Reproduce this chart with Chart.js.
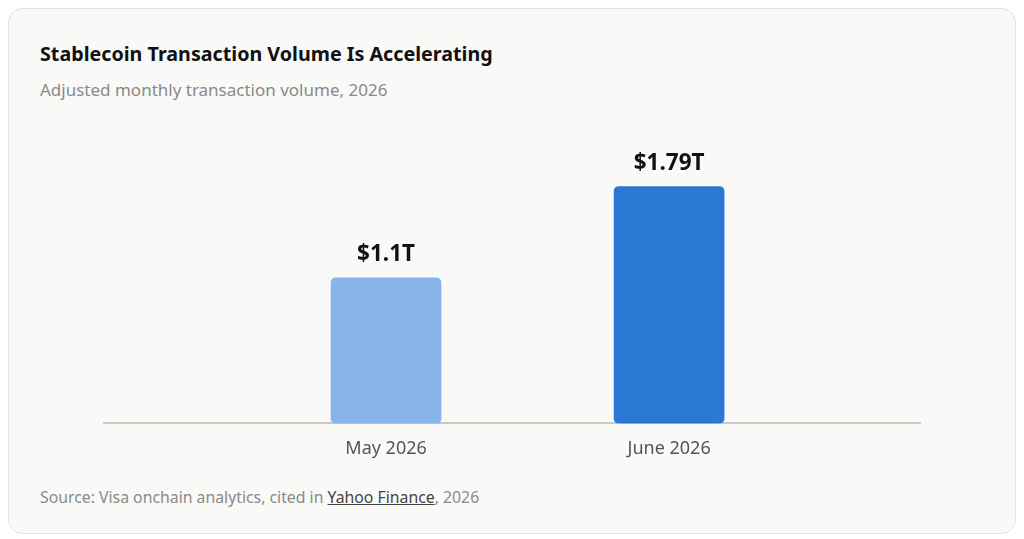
<!DOCTYPE html>
<html lang="en">
<head>
  <meta charset="UTF-8" />
  <title>Stablecoin Transaction Volume</title>
  <script src="https://cdn.jsdelivr.net/npm/chart.js"></script>
  <style>
    html, body { margin: 0; padding: 0; background: #ffffff; }
    body { width: 1024px; height: 539px; position: relative; overflow: hidden; font-family: "Noto Sans", "Open Sans", sans-serif; }
    .card {
      position: absolute; left: 8px; top: 8px; width: 1006px; height: 524px;
      background: #f9f9f7; border: 1px solid #e4e4df; border-radius: 14px;
    }
    .title { position: absolute; left: 40px; top: 40px; font-size: 19.7px; font-weight: 700; color: #111; white-space: nowrap; }
    .subtitle { position: absolute; left: 40px; top: 78px; font-size: 17px; color: #8a8a8a; white-space: nowrap; }
    .source { position: absolute; left: 40px; top: 486px; font-size: 15.8px; color: #8a8a8a; white-space: nowrap; }
    .source a { color: #444; text-decoration: underline; }
    .chart-box { position: absolute; left: 103px; top: 115px; width: 818px; height: 360px; }
  </style>
</head>
<body>
  <div class="card"></div>
  <div class="title">Stablecoin Transaction Volume Is Accelerating</div>
  <div class="subtitle">Adjusted monthly transaction volume, 2026</div>
  <div class="chart-box"><canvas id="volChart"></canvas></div>
  <div class="source">Source: Visa onchain analytics, cited in <a href="#">Yahoo Finance</a>, 2026</div>

  <script>
    // data (trillions USD)
    const months = ['May 2026', 'June 2026'];
    const volumes = [1.1, 1.79];
    const valueLabels = ['$1.1T', '$1.79T'];
    const barColors = ['#88b4ec', '#2b78d4'];

    // value labels above bars
    const topLabels = {
      id: 'topLabels',
      afterDatasetsDraw(chart) {
        const ctx = chart.ctx;
        const meta = chart.getDatasetMeta(0);
        ctx.save();
        ctx.font = 'bold 22.5px "Noto Sans", sans-serif';
        ctx.fillStyle = '#111';
        ctx.textAlign = 'center';
        ctx.textBaseline = 'bottom';
        meta.data.forEach((bar, i) => {
          ctx.fillText(valueLabels[i], bar.x, bar.y - 12);
        });
        ctx.restore();
      }
    };

    const ctx = document.getElementById('volChart').getContext('2d');
    new Chart(ctx, {
      type: 'bar',
      data: {
        datasets: [{
          data: volumes.map((v, i) => ({ x: i, y: v })),
          backgroundColor: barColors,
          borderRadius: 5,
          borderSkipped: false,
          barThickness: 110
        }]
      },
      options: {
        responsive: true,
        maintainAspectRatio: false,
        animation: false,
        layout: { padding: 0 },
        plugins: { legend: { display: false }, tooltip: { enabled: false } },
        scales: {
          x: {
            type: 'linear',
            min: -1,
            max: 1.89,
            offset: false,
            afterBuildTicks: axis => { axis.ticks = months.map((m, i) => ({ value: i })); },
            ticks: {
              callback: v => months[v],
              color: '#555',
              font: { size: 18, family: '"Noto Sans", sans-serif' },
              padding: 15,
              maxRotation: 0,
              autoSkip: false
            },
            grid: { display: false, drawTicks: false, offset: false },
            border: { display: true, color: '#c9c9c2', width: 2 }
          },
          y: {
            display: false,
            min: 0,
            max: 2.33
          }
        }
      },
      plugins: [topLabels]
    });
  </script>
</body>
</html>
